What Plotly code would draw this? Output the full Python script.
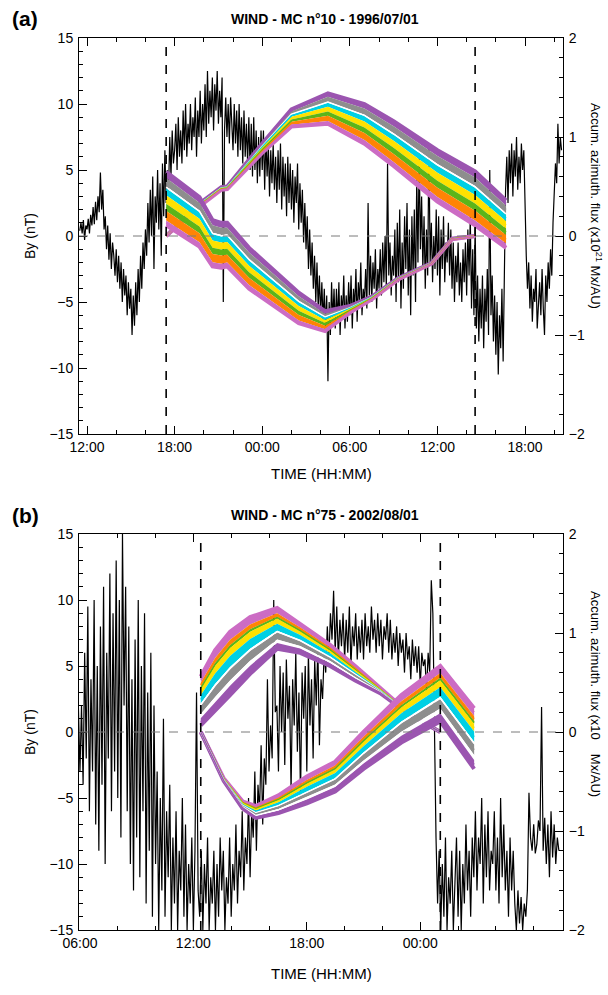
import plotly.graph_objects as go
from datetime import datetime, timedelta

# ---------------- DATA : panel (a) WIND MC n°10, 1996/07/01 ----------------
date_a = datetime(1996, 7, 1)
by_start_a = datetime(1996, 7, 1, 11, 30)     # first By sample, 5-min cadence (nT)
by_a = [
    0.4, 1.0, 0.2, 1.2, -0.3, 0.8,
    0.5, 1.3, 0.2, 1.6, 0.8, 2.2, 0.9, 2.6, 1.2, 3.0, 1.8, 4.8,
    2.0, 3.5, 0.5, 1.5, -1.0, 0.8, -1.8, 0.2, -2.5, -0.5, -1.5, -3.0,
    -1.0, -3.5, -1.5, -4.0, -2.0, -5.0, -2.5, -4.5, -3.0, -6.0, -3.5, -5.5,
    -4.0, -7.5, -4.5, -6.8, -3.5, -6.0, -2.5, -5.0, -1.5, -4.0, -0.5, -2.5,
    0.5, -1.5, 2.5, -0.5, 3.5, 0.0, 4.5, -2.5, 3.0, 1.0, 5.0, 0.5,
    4.0, -1.5, 5.5, 1.5, 6.5, 2.5, 5.0, 3.5, 7.5, 4.5, 8.0, 5.5,
    6.5, 8.5, 5.0, 9.0, 6.0, 8.0, 5.5, 9.5, 6.5, 10.0, 6.0, 8.5,
    7.0, 10.0, 6.5, 9.0, 7.5, 10.5, 6.0, 9.5, 7.5, 11.0, 7.0, 10.0,
    8.0, 11.5, 7.5, 12.5, 8.5, 11.0, 9.0, 12.0, 8.0, 11.5, 9.5, 12.5,
    8.5, 11.0, 9.0, 12.0, -5.0, 8.0, 10.5, 7.5, 10.0, 7.0, 10.5, 8.0,
    6.5, 10.0, 7.0, 9.5, 6.0, 10.0, 6.5, 9.0, 5.5, 9.5, 6.0, 8.5,
    5.5, 9.0, 5.0, 8.5, 4.5, 9.0, 5.0, 8.0, 4.0, 7.5, 4.5, 8.0,
    5.0, 8.0, 3.5, 7.5, 4.5, 7.0, 3.0, 6.5, 4.0, 7.0, 3.5, 6.0,
    2.5, 6.5, 3.5, 7.0, 2.0, 6.0, 3.0, 5.5, 1.5, 6.0, 2.5, 5.5,
    2.0, 5.0, 1.0, 4.5, 2.5, 5.5, 0.5, 4.0, 1.0, 3.5, -0.5, 2.5,
    -1.0, 1.5, -2.5, 0.5, -3.0, -0.5, -4.0, -1.5, -5.0, -2.0, -5.5, -3.0,
    -6.0, -3.5, -6.5, -4.0, -7.0, -4.5, -11.0, -5.0, -7.5, -3.5, -6.5, -4.0,
    -7.0, -4.0, -6.5, -3.5, -7.5, -4.5, -6.0, -3.0, -7.0, -4.5, -6.5, -3.5,
    -6.0, -3.0, -7.0, -4.0, -5.5, -2.5, -6.5, -3.5, -5.0, -2.0, -6.0, -4.0,
    -5.0, -2.5, -5.5, 2.5, -4.5, -1.5, -5.0, -2.0, -4.0, -1.0, -5.5, -2.5,
    -4.0, -1.0, -4.5, -0.5, -3.5, 0.0, -4.0, 5.5, -3.0, -0.5, -4.5, -1.5,
    -3.0, 0.5, -5.0, 1.0, -3.5, 2.0, -5.5, -0.5, -4.0, 1.5, -2.5, 2.5,
    -4.5, 0.5, -6.0, 1.5, -3.0, 2.0, -5.0, 4.5, -2.0, 6.5, -1.0, 3.0,
    -2.5, 1.5, -4.0, 0.5, -3.0, 7.0, -2.0, 1.0, -3.5, 0.0, -2.5, 2.0,
    -3.0, 1.5, -4.5, 0.5, -2.5, 1.5, -3.5, -0.5, -2.0, 1.0, -3.0, 0.5,
    -4.0, -0.5, -5.0, -1.5, -3.5, -0.5, -4.5, -2.0, -5.0, -1.0, -3.5, -0.5,
    -4.5, 0.5, -3.0, 1.5, -5.5, -1.0, -6.0, 1.0, -7.0, -3.0, -8.0, -4.0,
    -7.0, -3.0, -8.5, -4.0, -6.5, -2.5, -7.5, 5.0, -6.0, -3.0, -8.0, -4.5,
    -9.0, -5.0, -10.5, -6.0, -8.5, -4.0, -9.5, -3.0, 3.5, 6.0, 2.5, 6.5,
    4.0, 7.0, 3.0, 6.5, 4.5, 7.5, 3.5, 6.0, 4.0, 7.0, 5.0, 6.5,
    2.0, -1.5, -4.0, -2.0, -5.5, -3.0, -6.5, -4.0, -5.0, -2.5, -7.0, -4.5,
    -3.5, -6.0, -2.5, -5.5, -7.5, -3.0, -5.0, -2.0, -4.0, -1.0, -3.0, 1.0,
    3.0, 5.5, 4.0, 8.5, 5.5, 7.5, 6.5,
]
mc_bounds_a = [17.42, 38.58]          # MC boundaries, hours after 1996-07-01 00:00
# accumulated azimuthal flux (x1e21 Mx/AU): band edges at knot times (hours)
fa_up_hours = [17.42, 19.7, 21.2, 21.6, 24.0, 26.0, 28.5, 31.0, 33.0, 36.0, 38.58, 40.7]
fa_up_top   = [0.0, 0.327, 0.493, 0.50, 0.933, 1.28, 1.44, 1.333, 1.16, 0.867, 0.653, 0.36]
fa_up_bot   = [0.0, 0.300, 0.467, 0.473, 0.84, 1.107, 1.133, 0.933, 0.707, 0.347, 0.107, -0.12]
fa_lo_hours = [17.42, 19.7, 20.6, 21.2, 21.6, 23.1, 26.5, 28.3, 30.0, 31.5, 33.3, 35.6, 37.0, 38.58]
fa_lo_top   = [0.647, 0.393, 0.16, 0.133, 0.133, -0.12, -0.573, -0.76, -0.707, -0.613, -0.427, -0.273, -0.027, 0.0]
fa_lo_bot   = [0.107, -0.107, -0.307, -0.32, -0.307, -0.533, -0.88, -0.96, -0.773, -0.64, -0.44, -0.28, -0.033, 0.0]
x_range_a = [11.45, 44.6]

# ---------------- DATA : panel (b) WIND MC n°75, 2002/08/01 ----------------
date_b = datetime(2002, 8, 1)
by_start_b = datetime(2002, 8, 1, 5, 50)
by_b = [
    1.0, 2.0, -3.0, 2.0, -4.0, 6.0, -2.0, 9.5, -6.0, 4.0, -3.0, 10.0,
    -7.0, 5.0, -9.0, 8.0, -4.0, 11.0, -10.0, 6.0, -2.0, 12.0, -6.0, 9.0,
    -3.0, 13.0, -5.0, 10.0, -8.0, 15.0, 2.0, 11.0, -6.0, 8.0, -10.0, 4.0,
    -12.0, 7.0, -8.0, 10.0, -11.0, 5.0, -6.0, 9.0, -13.0, 3.0, -9.0, 6.0,
    -14.0, 2.0, -10.0, -3.0, -15.0, -5.0, -12.0, 1.0, -14.0, -6.0, -11.0, -4.0,
    -15.0, -8.0, -13.0, -6.0, -15.0, -9.0, -12.0, -5.0, -14.0, -7.0, -15.0, -10.0,
    -13.0, -8.0, -15.0, -9.0, 3.0, -12.0, -14.0, -9.0, -15.0, -10.0, -13.0, -8.0,
    -15.0, -11.0, -13.0, -9.0, -15.0, -10.0, -14.0, -8.0, -12.0, -9.0, -15.0, -11.0,
    -13.0, -8.0, -14.0, -10.0, -12.0, -7.0, -13.0, -9.0, -11.0, -6.0, -12.0, -8.0,
    -10.0, -5.0, -11.0, -6.0, -8.0, -3.0, -9.0, -4.0, -6.0, -1.0, -7.0, -2.0,
    -4.0, 4.0, -3.0, 0.5, -2.0, 10.0, 1.5, 2.0, -3.0, 5.0, 0.0, 4.5,
    -2.5, 5.5, 1.0, 3.5, -4.5, 4.0, 0.5, 6.0, -1.5, 3.0, -5.0, 4.5,
    1.0, 5.0, -3.0, 6.0, 0.5, 4.0, -2.0, 5.5, 2.0, 6.5, -1.0, 4.0,
    2.5, 6.0, 4.5, 8.0, 5.5, 9.0, 7.0, 10.7, 6.0, 9.5, 5.5, 8.5,
    6.5, 9.0, 5.5, 8.5, 6.0, 9.5, 5.0, 8.0, 6.5, 9.0, 5.5, 8.0,
    6.0, 8.5, 5.5, 9.0, 6.5, 8.0, 6.0, 9.5, 7.0, 8.5, 6.0, 9.0,
    6.5, 8.5, 5.5, 8.0, 7.0, 9.0, 6.0, 8.5, 5.5, 7.5, 6.0, 8.0,
    5.0, 7.5, 6.0, 7.0, 4.5, 7.5, 5.5, 6.5, 4.0, 7.0, 5.0, 6.5,
    4.5, 6.5, 3.5, 6.0, 5.0, 5.5, 3.0, 6.0, 4.5, 11.5, 9.0, -2.0,
    -8.0, -13.0, -9.0, -15.0, -10.0, -14.0, -8.0, -15.0, -11.0, -13.0, -9.0, -15.0,
    -12.0, -8.0, -14.0, -9.0, -15.0, -10.0, -13.0, -7.0, -12.0, -9.0, -14.0, -8.0,
    -11.0, -6.0, -12.0, -8.0, -10.0, -5.0, -13.0, -7.0, -11.0, -6.0, -12.0, -9.0,
    -10.0, -6.0, -12.0, -8.0, -13.0, -5.0, -11.0, -7.0, -12.0, -9.0, -14.0, -8.0,
    -12.0, -9.0, -13.0, -15.0, -12.0, -14.5, -12.5, -15.0, -13.0, -14.0, -12.0, -4.6,
    -8.0, -9.0, -7.0, -9.2, -8.5, -6.7, -7.5, 1.9, -9.0, -6.5, -10.0, -7.0,
    -11.0, -6.0, -9.5, -7.0, -10.0, -8.0, -9.0,
]
mc_bounds_b = [12.39, 25.06]
fb_up_hours = [12.39, 13.15, 13.94, 15.0, 16.43, 17.65, 19.23, 20.56, 21.88, 23.5, 25.06]
fb_up_top   = [0.56, 0.827, 1.013, 1.16, 1.253, 1.093, 0.88, 0.667, 0.44, 0.173, 0.0]
fb_up_bot   = [0.067, 0.213, 0.373, 0.587, 0.84, 0.80, 0.667, 0.52, 0.393, 0.167, 0.0]
fb_lo_hours = [12.39, 13.6, 14.6, 15.3, 16.5, 18.0, 19.5, 21.0, 23.0, 25.06, 26.85]
fb_lo_top   = [0.0, -0.467, -0.70, -0.747, -0.64, -0.45, -0.30, 0.0, 0.373, 0.667, 0.24]
fb_lo_bot   = [0.0, -0.493, -0.77, -0.867, -0.82, -0.72, -0.60, -0.373, -0.107, 0.107, -0.373]
x_range_b = [5.95, 31.55]
tick_hours_b = [6, 12, 18, 24]

# ---------------- STYLE ----------------
PURPLE, GRAY, CYAN, YELLOW, GREEN, ORANGE, ORCHID = (
    "#9b55b0", "#8e8e8e", "#00d0e4", "#ffe100", "#5cb51a", "#ff8405", "#cc6cc4")
colors_a = [PURPLE, GRAY, "white", CYAN, YELLOW, GREEN, ORANGE, ORCHID]
weights_a = [5, 7, 1.5, 6, 7, 6, 8, 4]
colors_b = [ORCHID, ORANGE, GREEN, YELLOW, CYAN, "white", GRAY, "white", PURPLE]
weights_b = [15, 10, 5, 15, 20, 5, 20, 10, 17]

W, H = 608, 995
ML, MR, MT, MB = 79, 45, 38, 65
PH = H - MT - MB
FONT = "Liberation Sans, Arial, Helvetica, sans-serif"


def py(px):
    return (H - MB - px) / PH


def pxx(px):
    return (px - ML) / (W - ML - MR)


fig = go.Figure()


def add_band(hours, top, bot, base, colors, weights, xa, ya):
    xs = [base + timedelta(hours=h) for h in hours]
    tot = sum(weights)
    cum = [0.0]
    for w in weights:
        cum.append(cum[-1] + w)
    bounds = [[t + (c / tot) * (b - t) for t, b in zip(top, bot)] for c in cum]
    common = dict(mode="lines", xaxis=xa, yaxis=ya, showlegend=False, hoverinfo="skip")
    fig.add_trace(go.Scatter(x=xs, y=bounds[0], line=dict(width=0), **common))
    for k, c in enumerate(colors):
        fig.add_trace(go.Scatter(x=xs, y=bounds[k + 1], line=dict(width=0),
                                 fill="tonexty", fillcolor=c, **common))
    fig.add_trace(go.Scatter(x=xs, y=bounds[0], line=dict(width=4, color=colors[0]), **common))
    fig.add_trace(go.Scatter(x=xs, y=bounds[-1], line=dict(width=4, color=colors[-1]), **common))
    for k, c in enumerate(colors):
        mid = [(a + b) / 2 for a, b in zip(bounds[k], bounds[k + 1])]
        fig.add_trace(go.Scatter(x=xs, y=mid, line=dict(width=1.5, color=c), **common))


def panel(by, by_start, base, up, lo, colors, weights, xa, ya, ya2):
    times = [by_start + timedelta(minutes=5 * i) for i in range(len(by))]
    fig.add_trace(go.Scatter(x=times, y=by, mode="lines", line=dict(color="black", width=1.2),
                             xaxis=xa, yaxis=ya, showlegend=False, hoverinfo="skip"))
    add_band(*up, base, colors, weights, xa, ya2)
    add_band(*lo, base, colors, weights, xa, ya2)


panel(by_a, by_start_a, date_a, (fa_up_hours, fa_up_top, fa_up_bot),
      (fa_lo_hours, fa_lo_top, fa_lo_bot), colors_a, weights_a, "x", "y", "y2")
panel(by_b, by_start_b, date_b, (fb_up_hours, fb_up_top, fb_up_bot),
      (fb_lo_hours, fb_lo_top, fb_lo_bot), colors_b, weights_b, "x2", "y3", "y4")

shapes = []
for base, bounds, xr, yr in [(date_a, mc_bounds_a, "x", "y"), (date_b, mc_bounds_b, "x2", "y3")]:
    shapes.append(dict(type="line", xref=xr + " domain", x0=0, x1=1, yref=yr, y0=0, y1=0,
                       line=dict(color="#7a7a7a", width=1, dash="dash"), layer="above"))
    for h in bounds:
        t = base + timedelta(hours=h)
        shapes.append(dict(type="line", xref=xr, x0=t, x1=t, yref=yr + " domain", y0=0, y1=1,
                           line=dict(color="black", width=1.6, dash="dash"), layer="above"))

tick_font = dict(family=FONT, size=14, color="black")
xcommon = dict(type="date", tickformat="%H:%M", ticks="inside", ticklen=8,
               tickcolor="black", showline=True, linecolor="black", linewidth=1, mirror="ticks",
               showgrid=False, zeroline=False, tickfont=tick_font)
ycommon = dict(range=[-15, 15], dtick=5, ticks="inside", ticklen=8, tickcolor="black",
               showline=True, linecolor="black", linewidth=1, showgrid=False, zeroline=False,
               tickfont=tick_font, ticklabelstandoff=2,
               minor=dict(dtick=1, ticks="inside", ticklen=4, tickcolor="black", showgrid=False))
y2common = dict(range=[-2, 2], dtick=1, ticks="inside", ticklen=8, tickcolor="black",
                showline=True, linecolor="black", linewidth=1, showgrid=False, zeroline=False,
                side="right", tickfont=tick_font, ticklabelstandoff=2,
                minor=dict(dtick=0.2, ticks="inside", ticklen=4, tickcolor="black", showgrid=False))
HOUR = 3600 * 1000

fig.update_layout(
    width=W, height=H, margin=dict(l=ML, r=MR, t=MT, b=MB, pad=0),
    paper_bgcolor="white", plot_bgcolor="white", hovermode=False,
    font=dict(family=FONT, size=14, color="black"),
    xaxis=dict(xcommon, anchor="y", domain=[0, 1], dtick=6 * HOUR, tick0="1996-07-01 00:00",
               minor=dict(dtick=2 * HOUR, tick0="1996-07-01 00:00", ticks="inside", ticklen=4,
                          tickcolor="black", showgrid=False),
               range=[date_a + timedelta(hours=x_range_a[0]), date_a + timedelta(hours=x_range_a[1])]),
    yaxis=dict(ycommon, anchor="x", domain=[py(434), 1]),
    yaxis2=dict(y2common, anchor="x", overlaying="y"),
    xaxis2=dict(xcommon, anchor="y3", domain=[0, 1], tickmode="array",
                tickvals=[date_b + timedelta(hours=h) for h in tick_hours_b],
                minor=dict(dtick=2 * HOUR, tick0="2002-08-01 00:00", ticks="inside", ticklen=4,
                           tickcolor="black", showgrid=False),
                range=[date_b + timedelta(hours=x_range_b[0]), date_b + timedelta(hours=x_range_b[1])]),
    yaxis3=dict(ycommon, anchor="x2", domain=[0, py(534)]),
    yaxis4=dict(y2common, anchor="x2", overlaying="y3"),
    shapes=shapes,
)

ann = []
for (lab, title, ytop, ybot, unit, tdy, rdy) in [
        ("(a)", "WIND - MC n°10 - 1996/07/01", 38, 434, "(x10<sup>21</sup> Mx/AU)", 40, -30),
        ("(b)", "WIND - MC n°75 - 2002/08/01", 534, 930, "(x10\u2009\u2009\u2009\u2009 Mx/AU)", 44, -38)]:
    ann.append(dict(text="<b>" + lab + "</b>", x=pxx(25), y=py(ytop - 19), xref="paper", yref="paper",
                    showarrow=False, font=dict(size=21, family=FONT), xanchor="center", yanchor="middle"))
    ann.append(dict(text="<b>" + title + "</b>", x=pxx(325), y=py(ytop - 19), xref="paper", yref="paper",
                    showarrow=False, font=dict(size=14, family=FONT), xanchor="center", yanchor="middle"))
    ann.append(dict(text="TIME (HH:MM)", x=pxx(321), y=py(ybot + tdy), xref="paper", yref="paper",
                    showarrow=False, font=dict(size=15, family=FONT), xanchor="center", yanchor="middle"))
    ann.append(dict(text="By (nT)", x=pxx(30), y=py((ytop + ybot) / 2), xref="paper", yref="paper",
                    textangle=-90, showarrow=False, font=dict(size=14, family=FONT),
                    xanchor="center", yanchor="middle"))
    ann.append(dict(text="Accum. azimuth. flux " + unit, x=pxx(596),
                    y=py((ytop + ybot) / 2 + rdy), xref="paper", yref="paper",
                    textangle=90, showarrow=False, font=dict(size=13, family=FONT),
                    xanchor="center", yanchor="middle"))
fig.update_layout(annotations=ann)

fig.write_html("out.html", config={"displayModeBar": False, "staticPlot": True},
               post_script="document.body.style.margin='0';document.body.style.overflow='hidden';")
